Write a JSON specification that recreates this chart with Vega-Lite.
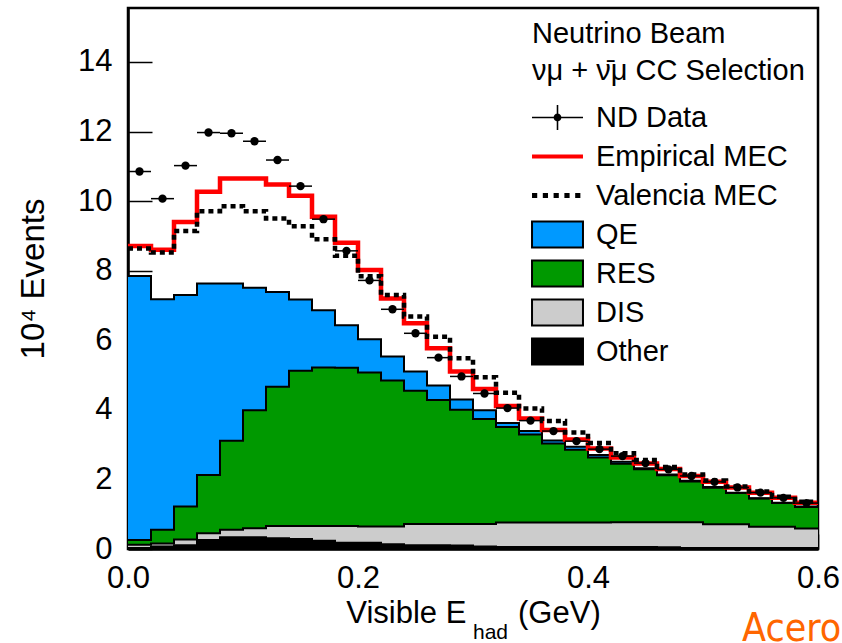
{
  "$schema": "https://vega.github.io/schema/vega-lite/v6.json",
  "autosize": "none",
  "width": 690,
  "height": 541,
  "padding": {"left": 128, "top": 8, "right": 24, "bottom": 94},
  "background": "white",
  "config": {
    "font": "Liberation Sans",
    "view": {"stroke": "black", "strokeWidth": 2.5},
    "axis": {"grid": false, "domainColor": "black", "domainWidth": 2.5, "tickColor": "black", "tickWidth": 1.5, "labelColor": "black", "titleColor": "black", "labelFont": "Liberation Sans", "titleFont": "Liberation Sans", "labelFontSize": 31, "titleFontWeight": "normal", "labelOverlap": false, "labelFlush": false, "labelBound": false, "zindex": 1}
  },
  "datasets": {
    "h": [
      {"lo": 0.00, "hi": 0.02, "c": 0.01, "oth": 0.03, "dis": 0.12, "res": 0.26, "qe": 7.85, "emp": 8.71, "val": 8.64, "nd": 10.85},
      {"lo": 0.02, "hi": 0.04, "c": 0.03, "oth": 0.07, "dis": 0.16, "res": 0.55, "qe": 7.18, "emp": 8.60, "val": 8.52, "nd": 10.07},
      {"lo": 0.04, "hi": 0.06, "c": 0.05, "oth": 0.11, "dis": 0.27, "res": 1.22, "qe": 7.30, "emp": 9.40, "val": 9.14, "nd": 11.02},
      {"lo": 0.06, "hi": 0.08, "c": 0.07, "oth": 0.26, "dis": 0.45, "res": 2.13, "qe": 7.63, "emp": 10.27, "val": 9.71, "nd": 11.97},
      {"lo": 0.08, "hi": 0.10, "c": 0.09, "oth": 0.34, "dis": 0.55, "res": 3.11, "qe": 7.63, "emp": 10.65, "val": 9.85, "nd": 11.95},
      {"lo": 0.10, "hi": 0.12, "c": 0.11, "oth": 0.34, "dis": 0.60, "res": 3.99, "qe": 7.51, "emp": 10.65, "val": 9.71, "nd": 11.72},
      {"lo": 0.12, "hi": 0.14, "c": 0.13, "oth": 0.31, "dis": 0.66, "res": 4.66, "qe": 7.39, "emp": 10.48, "val": 9.50, "nd": 11.18},
      {"lo": 0.14, "hi": 0.16, "c": 0.15, "oth": 0.29, "dis": 0.66, "res": 5.12, "qe": 7.17, "emp": 10.15, "val": 9.28, "nd": 10.43},
      {"lo": 0.16, "hi": 0.18, "c": 0.17, "oth": 0.24, "dis": 0.66, "res": 5.22, "qe": 6.86, "emp": 9.55, "val": 8.90, "nd": 9.48},
      {"lo": 0.18, "hi": 0.20, "c": 0.19, "oth": 0.18, "dis": 0.66, "res": 5.21, "qe": 6.43, "emp": 8.80, "val": 8.43, "nd": 8.57},
      {"lo": 0.20, "hi": 0.22, "c": 0.21, "oth": 0.18, "dis": 0.65, "res": 5.07, "qe": 6.03, "emp": 8.02, "val": 7.84, "nd": 7.72},
      {"lo": 0.22, "hi": 0.24, "c": 0.23, "oth": 0.14, "dis": 0.65, "res": 4.84, "qe": 5.53, "emp": 7.20, "val": 7.30, "nd": 6.89},
      {"lo": 0.24, "hi": 0.26, "c": 0.25, "oth": 0.11, "dis": 0.72, "res": 4.55, "qe": 5.10, "emp": 6.49, "val": 6.68, "nd": 6.20},
      {"lo": 0.26, "hi": 0.28, "c": 0.27, "oth": 0.11, "dis": 0.72, "res": 4.28, "qe": 4.70, "emp": 5.77, "val": 6.10, "nd": 5.50},
      {"lo": 0.28, "hi": 0.30, "c": 0.29, "oth": 0.10, "dis": 0.72, "res": 4.00, "qe": 4.30, "emp": 5.10, "val": 5.48, "nd": 4.96},
      {"lo": 0.30, "hi": 0.32, "c": 0.31, "oth": 0.07, "dis": 0.72, "res": 3.74, "qe": 3.99, "emp": 4.60, "val": 4.94, "nd": 4.47},
      {"lo": 0.32, "hi": 0.34, "c": 0.33, "oth": 0.06, "dis": 0.76, "res": 3.51, "qe": 3.62, "emp": 4.11, "val": 4.49, "nd": 4.05},
      {"lo": 0.34, "hi": 0.36, "c": 0.35, "oth": 0.06, "dis": 0.76, "res": 3.29, "qe": 3.39, "emp": 3.75, "val": 4.04, "nd": 3.69},
      {"lo": 0.36, "hi": 0.38, "c": 0.37, "oth": 0.06, "dis": 0.76, "res": 3.03, "qe": 3.12, "emp": 3.42, "val": 3.68, "nd": 3.39},
      {"lo": 0.38, "hi": 0.40, "c": 0.39, "oth": 0.06, "dis": 0.76, "res": 2.85, "qe": 2.94, "emp": 3.15, "val": 3.35, "nd": 3.10},
      {"lo": 0.40, "hi": 0.42, "c": 0.41, "oth": 0.06, "dis": 0.76, "res": 2.63, "qe": 2.70, "emp": 2.89, "val": 3.05, "nd": 2.87},
      {"lo": 0.42, "hi": 0.44, "c": 0.43, "oth": 0.06, "dis": 0.77, "res": 2.45, "qe": 2.51, "emp": 2.63, "val": 2.75, "nd": 2.67},
      {"lo": 0.44, "hi": 0.46, "c": 0.45, "oth": 0.06, "dis": 0.77, "res": 2.29, "qe": 2.32, "emp": 2.46, "val": 2.56, "nd": 2.47},
      {"lo": 0.46, "hi": 0.48, "c": 0.47, "oth": 0.05, "dis": 0.77, "res": 2.12, "qe": 2.14, "emp": 2.30, "val": 2.36, "nd": 2.29},
      {"lo": 0.48, "hi": 0.50, "c": 0.49, "oth": 0.03, "dis": 0.77, "res": 1.94, "qe": 1.96, "emp": 2.10, "val": 2.14, "nd": 2.10},
      {"lo": 0.50, "hi": 0.52, "c": 0.51, "oth": 0.03, "dis": 0.71, "res": 1.76, "qe": 1.78, "emp": 1.93, "val": 1.97, "nd": 1.93},
      {"lo": 0.52, "hi": 0.54, "c": 0.53, "oth": 0.03, "dis": 0.71, "res": 1.61, "qe": 1.62, "emp": 1.77, "val": 1.80, "nd": 1.77},
      {"lo": 0.54, "hi": 0.56, "c": 0.55, "oth": 0.03, "dis": 0.64, "res": 1.45, "qe": 1.46, "emp": 1.62, "val": 1.65, "nd": 1.62},
      {"lo": 0.56, "hi": 0.58, "c": 0.57, "oth": 0.03, "dis": 0.64, "res": 1.32, "qe": 1.33, "emp": 1.47, "val": 1.50, "nd": 1.47},
      {"lo": 0.58, "hi": 0.60, "c": 0.59, "oth": 0.03, "dis": 0.59, "res": 1.21, "qe": 1.22, "emp": 1.33, "val": 1.36, "nd": 1.32},
      {"lo": 0.60, "hi": null, "c": null, "oth": 0.03, "dis": 0.59, "res": 1.21, "qe": 1.22, "emp": 1.33, "val": 1.36, "nd": null}
    ]
  },
  "data": {"name": "h"},
  "layer": [
    {
      "mark": {"type": "area", "interpolate": "step-after"},
      "encoding": {
        "x": {"field": "lo", "type": "quantitative",
          "scale": {"domain": [0, 0.6], "nice": false, "zero": false},
          "axis": {
            "title": "Visible E\u00a0\u00a0\u00a0\u00a0\u00a0\u00a0(GeV)",
            "titleFontSize": 31,
            "values": [0,0.02,0.04,0.06,0.08,0.1,0.12,0.14,0.16,0.18,0.2,0.22,0.24,0.26,0.28,0.3,0.32,0.34,0.36,0.38,0.4,0.42,0.44,0.46,0.48,0.5,0.52,0.54,0.56,0.58,0.6],
            "labelExpr": "abs(datum.value*10-round(datum.value*10))<0.001 ? format(datum.value,'.1f') : ''",
            "tickSize": {"condition": {"test": "abs(datum.value*10-round(datum.value*10))<0.001", "value": -15}, "value": -7},
            "labelPadding": 29,
            "titlePadding": -3
          }
        },
        "y": {"field": "oth", "type": "quantitative",
          "scale": {"domain": [0, 15.55], "nice": false, "zero": true},
          "axis": {
            "title": "10\u2074 Events",
            "titleFontSize": 33,
            "values": [0,0.5,1,1.5,2,2.5,3,3.5,4,4.5,5,5.5,6,6.5,7,7.5,8,8.5,9,9.5,10,10.5,11,11.5,12,12.5,13,13.5,14,14.5,15,15.5],
            "labelExpr": "datum.value % 2 === 0 ? datum.label : ''",
            "tickSize": {"condition": {"test": "datum.value % 2 === 0", "value": -24}, "value": -13},
            "labelPadding": 40,
            "titlePadding": 27
          }
        },
        "y2": {"datum": 0},
        "color": {"datum": "Other", "type": "nominal",
          "scale": {"domain": ["ND Data", "Empirical MEC", "Valencia MEC", "QE", "RES", "DIS", "Other"],
                    "range": ["black", "#ff0000", "black", "#0099ff", "#009900", "#cccccc", "black"]},
          "legend": {
            "orient": "none", "legendX": 404, "legendY": 12,
            "title": ["Neutrino Beam", "\u03bd\u03bc + \u03bd\u0304\u03bc CC Selection"],
            "titleFontSize": 29, "titleFontWeight": "normal", "titleLineHeight": 37, "titlePadding": 17,
            "titleColor": "black", "titleFont": "Liberation Sans", "titleAnchor": "start", "titleLimit": 600,
            "labelFontSize": 29, "labelFont": "Liberation Sans", "labelColor": "black", "labelLimit": 600,
            "symbolSize": 676, "symbolOffset": 11, "labelOffset": 24, "rowPadding": 4,
            "symbolOpacity": 1,
            "symbolStrokeColor": "black",
            "symbolStrokeWidth": {"expr": "(datum.value === 'QE' || datum.value === 'RES' || datum.value === 'DIS' || datum.value === 'Other') ? 2 : 0"},
            "symbolType": {"expr": "datum.value === 'ND Data' ? 'M-1.96,-1.3M-1.96,1.3M-1.96,-0.06H1.96V0.06H-1.96Z M-0.06,-0.96H0.06V0.96H-0.06Z M0.3,0A0.3,0.3,0,1,1,-0.3,0A0.3,0.3,0,1,1,0.3,0Z' : datum.value === 'Empirical MEC' ? 'M-1.96,-1.3M-1.96,1.3M-1.96,-0.16H1.96V0.16H-1.96Z' : datum.value === 'Valencia MEC' ? 'M-1.96,-1.3M-1.96,1.3M-1.96,-0.2h0.4v0.4h-0.4Z M-1.13,-0.2h0.4v0.4h-0.4Z M-0.3,-0.2h0.4v0.4h-0.4Z M0.53,-0.2h0.4v0.4h-0.4Z M1.36,-0.2h0.4v0.4h-0.4Z' : 'M-1.96,-1H1.96V1H-1.96Z'"}
          }
        }
      }
    },
    {
      "mark": {"type": "area", "interpolate": "step-after"},
      "encoding": {
        "x": {"field": "lo", "type": "quantitative"},
        "y": {"field": "dis", "type": "quantitative"},
        "y2": {"field": "oth"},
        "color": {"datum": "DIS", "type": "nominal"}
      }
    },
    {
      "mark": {"type": "area", "interpolate": "step-after"},
      "encoding": {
        "x": {"field": "lo", "type": "quantitative"},
        "y": {"field": "res", "type": "quantitative"},
        "y2": {"field": "dis"},
        "color": {"datum": "RES", "type": "nominal"}
      }
    },
    {
      "mark": {"type": "area", "interpolate": "step-after"},
      "encoding": {
        "x": {"field": "lo", "type": "quantitative"},
        "y": {"field": "qe", "type": "quantitative"},
        "y2": {"field": "res"},
        "color": {"datum": "QE", "type": "nominal"}
      }
    },
    {
      "transform": [{"fold": ["qe", "res", "dis", "oth"], "as": ["key", "v"]}],
      "mark": {"type": "line", "interpolate": "step-after", "stroke": "black", "strokeWidth": 2},
      "encoding": {
        "x": {"field": "lo", "type": "quantitative"},
        "y": {"field": "v", "type": "quantitative"},
        "detail": {"field": "key", "type": "nominal"}
      }
    },
    {
      "mark": {"type": "line", "interpolate": "step-after", "stroke": "#ff0000", "strokeWidth": 4.5},
      "encoding": {
        "x": {"field": "lo", "type": "quantitative"},
        "y": {"field": "emp", "type": "quantitative"}
      }
    },
    {
      "mark": {"type": "line", "interpolate": "step-after", "stroke": "black", "strokeWidth": 4.5, "strokeDash": [5, 4]},
      "encoding": {
        "x": {"field": "lo", "type": "quantitative"},
        "y": {"field": "val", "type": "quantitative"}
      }
    },
    {
      "transform": [{"filter": "isValid(datum.hi)"}],
      "mark": {"type": "rule", "color": "black", "strokeWidth": 1.5},
      "encoding": {
        "x": {"field": "lo", "type": "quantitative"},
        "x2": {"field": "hi"},
        "y": {"field": "nd", "type": "quantitative"}
      }
    },
    {
      "transform": [{"filter": "isValid(datum.hi)"}],
      "mark": {"type": "point", "filled": true, "shape": "circle", "size": 70, "opacity": 1},
      "encoding": {
        "x": {"field": "c", "type": "quantitative"},
        "y": {"field": "nd", "type": "quantitative"},
        "color": {"datum": "ND Data", "type": "nominal"}
      }
    },
    {
      "data": {"values": [{}]},
      "mark": {"type": "text", "text": "had", "fontSize": 21, "align": "left", "baseline": "alphabetic", "color": "black", "font": "Liberation Sans"},
      "encoding": {
        "x": {"datum": 0.3, "type": "quantitative"},
        "y": {"datum": -2.6, "type": "quantitative"}
      }
    },
    {
      "data": {"values": [{}]},
      "mark": {"type": "text", "text": "Acero et al.", "fontSize": 39, "align": "left", "baseline": "alphabetic", "color": "#ff6600", "font": "DejaVu Sans Condensed, DejaVu Sans"},
      "encoding": {
        "x": {"datum": 0.534, "type": "quantitative"},
        "y": {"datum": -2.64, "type": "quantitative"}
      }
    }
  ]
}
